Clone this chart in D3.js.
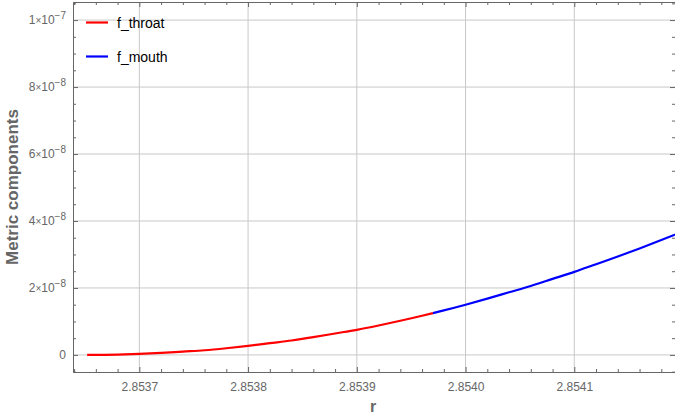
<!DOCTYPE html>
<html>
<head>
<meta charset="utf-8">
<script src="https://cdn.jsdelivr.net/npm/d3@7"></script>
<style>
  body { margin: 0; background: #fff; }
  svg { display: block; font-family: Arial, "Liberation Sans", sans-serif; }
</style>
</head>
<body>
<div id="app"></div>
<script>
// y values in units of 1e-8
const throatR = [2.853652, 2.85368, 2.8537, 2.85372, 2.85374, 2.85376, 2.85378, 2.8538, 2.85382, 2.85384, 2.85386, 2.85388, 2.8539, 2.85392, 2.85394, 2.85396, 2.85397];
const throatF = [0, 0.01, 0.03, 0.06, 0.1, 0.14, 0.2, 0.27, 0.35, 0.43, 0.53, 0.64, 0.75, 0.88, 1.02, 1.17, 1.25];
const mouthR = [2.85397, 2.85398, 2.854, 2.85402, 2.85404, 2.85406, 2.85408, 2.8541, 2.85412, 2.85414, 2.85416, 2.85418, 2.8542];
const mouthF = [1.25, 1.33, 1.5, 1.68, 1.87, 2.06, 2.27, 2.48, 2.71, 2.94, 3.18, 3.43, 3.69];

const xTicks = [2.8537, 2.8538, 2.8539, 2.854, 2.8541];
const xTickLabels = ["2.8537", "2.8538", "2.8539", "2.8540", "2.8541"];
const yTicks = [0, 2, 4, 6, 8, 10];
const yTickLabels = [["0", ""], ["2", "-8"], ["4", "-8"], ["6", "-8"], ["8", "-8"], ["1", "-7"]];

const seriesNames = ["f_throat", "f_mouth"];
const seriesColors = ["#ff0000", "#0000ff"];

const w = 675;
const h = 416;
const mLeft = 73, mRight = 675, mTop = 2, mBottom = 372;

const x = d3.scaleLinear().domain([2.853639, 2.8541926]).range([mLeft, mRight]);
const y = d3.scaleLinear().domain([-0.51, 10.54]).range([mBottom, mTop]);

const svg = d3.select("#app").append("svg").attr("width", w).attr("height", h);

svg.append("clipPath").attr("id", "clip")
  .append("rect").attr("x", mLeft).attr("y", mTop).attr("width", mRight - mLeft).attr("height", mBottom - mTop);

//grid
svg.append("g").selectAll("line").data(xTicks).join("line")
  .attr("x1", d => x(d)).attr("x2", d => x(d))
  .attr("y1", mTop).attr("y2", mBottom)
  .attr("stroke", "#c8c8c8").attr("stroke-width", 1);
svg.append("g").selectAll("line").data(yTicks).join("line")
  .attr("x1", mLeft).attr("x2", mRight)
  .attr("y1", d => y(d)).attr("y2", d => y(d))
  .attr("stroke", "#c8c8c8").attr("stroke-width", 1);

//minor tick values
const xMinor = d3.range(2.85364, 2.8542, 0.00002).filter(v => !xTicks.some(t => Math.abs(t - v) < 1e-9));
const yMinor = d3.range(-0.5, 10.6, 0.5).filter(v => !yTicks.some(t => Math.abs(t - v) < 1e-9));

const axisColor = "#666";
const styleAxis = (g) => {
  g.select(".domain").attr("stroke", axisColor);
  g.selectAll(".tick line").attr("stroke", axisColor);
  g.selectAll(".tick text").attr("fill", "#666");
};

//bottom
svg.append("g").attr("transform", `translate(0,${mBottom})`)
  .call(d3.axisBottom(x).tickValues(xTicks).tickSizeInner(-5).tickSizeOuter(0).tickPadding(10)
    .tickFormat((d, i) => xTickLabels[i]))
  .call(styleAxis)
  .call(g => g.selectAll(".tick text").attr("font-size", 12).attr("font-family", null));
svg.append("g").attr("transform", `translate(0,${mBottom})`)
  .call(d3.axisBottom(x).tickValues(xMinor).tickSize(-3).tickFormat(""))
  .call(styleAxis).call(g => g.select(".domain").remove());

//top
svg.append("g").attr("transform", `translate(0,${mTop})`)
  .call(d3.axisTop(x).tickValues(xTicks).tickSize(-5).tickFormat(""))
  .call(styleAxis);
svg.append("g").attr("transform", `translate(0,${mTop})`)
  .call(d3.axisTop(x).tickValues(xMinor).tickSize(-3).tickFormat(""))
  .call(styleAxis).call(g => g.select(".domain").remove());

//left
svg.append("g").attr("transform", `translate(${mLeft},0)`)
  .call(d3.axisLeft(y).tickValues(yTicks).tickSizeInner(-5).tickSizeOuter(0).tickFormat(""))
  .call(styleAxis);
svg.append("g").attr("transform", `translate(${mLeft},0)`)
  .call(d3.axisLeft(y).tickValues(yMinor).tickSize(-3).tickFormat(""))
  .call(styleAxis).call(g => g.select(".domain").remove());

//y tick labels like 2×10^-8
yTicks.forEach((v, i) => {
  const lab = yTickLabels[i];
  const t = svg.append("text")
    .attr("x", mLeft - 7).attr("y", y(v) + 4)
    .attr("text-anchor", "end").attr("fill", "#666").attr("font-size", 12);
  if (lab[1] === "") {
    t.text(lab[0]);
  } else {
    t.append("tspan").text(lab[0]);
    t.append("tspan").attr("font-size", 10).text("\u00d7");
    t.append("tspan").text("10");
    t.append("tspan").attr("font-size", 10).attr("dy", -5).text(lab[1].replace("-", "\u2212"));
  }
});

//right
svg.append("g").attr("transform", `translate(${mRight},0)`)
  .call(d3.axisRight(y).tickValues(yTicks).tickSize(-5).tickFormat(""))
  .call(styleAxis);
svg.append("g").attr("transform", `translate(${mRight},0)`)
  .call(d3.axisRight(y).tickValues(yMinor).tickSize(-3).tickFormat(""))
  .call(styleAxis).call(g => g.select(".domain").remove());

//curves
const line = d3.line().x(d => x(d[0])).y(d => y(d[1])).curve(d3.curveMonotoneX);
const plot = svg.append("g").attr("clip-path", "url(#clip)");
plot.append("path").datum(d3.zip(throatR, throatF))
  .attr("d", line).attr("fill", "none").attr("stroke", seriesColors[0]).attr("stroke-width", 2.2);
plot.append("path").datum(d3.zip(mouthR, mouthF))
  .attr("d", line).attr("fill", "none").attr("stroke", seriesColors[1]).attr("stroke-width", 2.2);

//legend
seriesNames.forEach((name, i) => {
  const ly = 22.5 + i * 34;
  svg.append("line").attr("x1", 86).attr("x2", 108).attr("y1", ly).attr("y2", ly)
    .attr("stroke", seriesColors[i]).attr("stroke-width", 2.2);
  svg.append("text").attr("x", 117).attr("y", ly + 5).attr("font-size", 14)
    .attr("fill", "#000").text(name);
});

//axis titles
svg.append("text").attr("x", 373).attr("y", 412).attr("text-anchor", "middle")
  .attr("font-size", 16).attr("font-weight", "bold").attr("fill", "#666").text("r");
svg.append("text").attr("transform", "translate(18,187) rotate(-90)").attr("text-anchor", "middle")
  .attr("font-size", 17).attr("font-weight", "bold").attr("fill", "#666").text("Metric components");
</script>
</body>
</html>
